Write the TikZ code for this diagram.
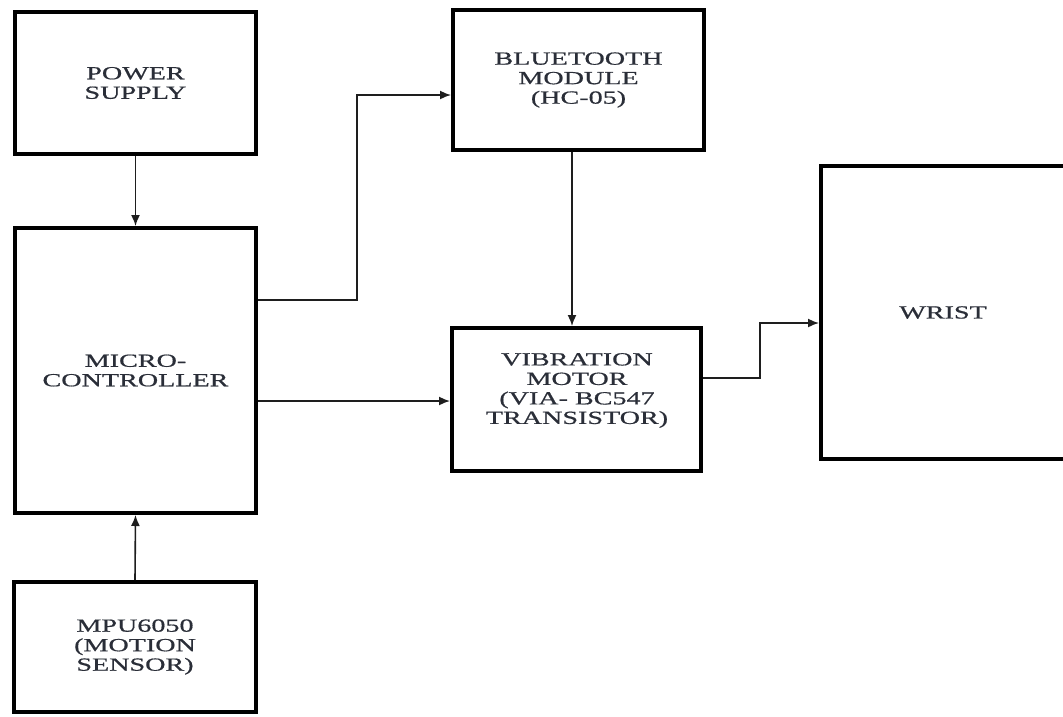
\documentclass[tikz,border=0pt]{standalone}
\usepackage{fontspec}
\setmainfont{Liberation Serif}[FakeStretch=1.52,FakeBold=0.7]
\usetikzlibrary{arrows.meta}
\definecolor{txt}{RGB}{42,46,56}
\definecolor{ln}{RGB}{30,30,30}
\tikzset{
  blk/.style={draw=black, line width=4pt, fill=white, inner sep=0pt, align=center,
    text=txt, font=\fontsize{18.5}{19.5}\selectfont},
  arr/.style={draw=ln, line width=1.6pt, -{Latex[length=11pt,width=9pt]}},
}
\begin{document}
\begin{tikzpicture}[x=1pt,y=-1pt]
\clip (0,0) rectangle (1063,716);
\fill[white] (0,0) rectangle (1063,716);
% boxes (line centres)
\node[blk, minimum width=241pt, minimum height=142pt] (ps) at (135.5,83) {POWER\\SUPPLY};
\node[blk, minimum width=241pt, minimum height=285pt] (mc) at (135.5,370.5) {MICRO-\\CONTROLLER};
\node[blk, minimum width=242pt, minimum height=130pt] (mpu) at (135,647) {MPU6050\\(MOTION\\SENSOR)};
\node[blk, minimum width=251pt, minimum height=140pt] (bt) at (578.5,80) {BLUETOOTH\\MODULE\\(HC-05)};
\node[blk, minimum width=249pt, minimum height=143pt] (vm) at (576.5,399.5) {};
\node[align=center, text=txt, font=\fontsize{18.5}{19.5}\selectfont] (vmt) at (577,390.5) {VIBRATION\\MOTOR\\(VIA- BC547\\TRANSISTOR)};
\node[blk, minimum width=244pt, minimum height=293pt] (wr) at (943,312.5) {WRIST};
% junction coordinates
\coordinate (j1) at (357,300);
\coordinate (j2) at (357,95);
\coordinate (j3) at (760,378);
\coordinate (j4) at (760,323);
\coordinate (j5) at (300,401);
\coordinate (j6) at (572,0);
% connectors
\draw[arr] (ps.south) -- (mc.north);
\draw[arr] (mpu.north) -- (mc.south);
\draw[arr] (mc.east |- j1) -- (j1) -- (j2) -- (bt.west |- j2);
\draw[arr] (mc.east |- j5) -- (vm.west |- j5);
\draw[arr] (bt.south -| j6) -- (vm.north -| j6);
\draw[arr] (vm.east |- j3) -- (j3) -- (j4) -- (wr.west |- j4);
\end{tikzpicture}
\end{document}
